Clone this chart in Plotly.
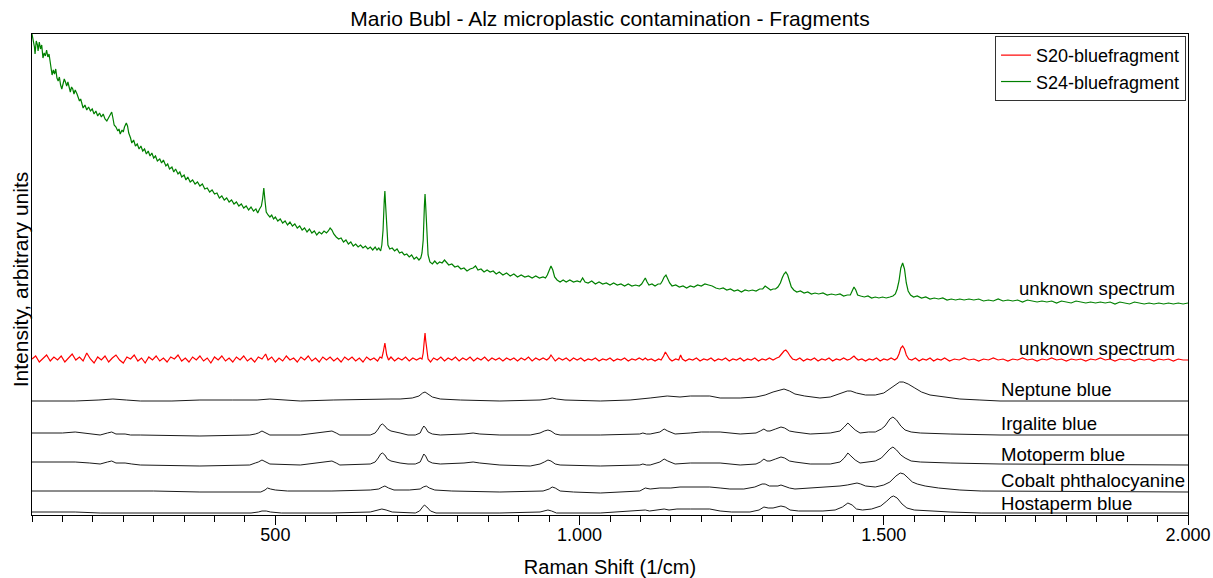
import plotly.graph_objects as go

# ---------------- data (x = Raman shift in 1/cm, y = intensity, arbitrary units) ----------------
s24_spectrum = [
    (100,481),(102,476),(104,468),(105,461),(107,474),(109,470),(110,464),(112,473),(114,466),(116,470),
    (118,457),(120,462),(122,459),(124,465),(126,458),(128,461),(130,454),(132,447),(133,440),(135,445),
    (137,441),(139,446),(141,437),(143,434),(145,438),(147,430),(149,426),(151,431),(153,436),(155,433),
    (157,429),(159,433),(161,426),(163,423),(165,428),(167,426),(169,421),(171,425),(174,421),(176,418),
    (178,414),(180,416),(182,410),(184,407),(187,410),(190,405),(193,408),(196,404),(199,406),(202,401),
    (205,404),(208,399),(211,402),(214,398),(217,401),(220,396),(223,394),(226,397),(229,401),(231,403),
    (233,397),(235,390),(238,388),(241,384),(243,386),(245,381),(248,385),(250,383),(252,388),(255,392),
    (257,389),(259,382),(262,377),(264,372),(267,375),(270,369),(273,371),(276,366),(279,369),(282,364),
    (285,366),(288,361),(291,364),(294,359),(297,362),(300,357),(303,359),(306,354),(310,356),(313,352),
    (316,355),(320,349),(323,351),(326,346),(330,348),(333,343),(336,346),(340,341),(343,343),(346,338),
    (350,340),(353,335),(356,338),(360,333),(364,335),(368,331),(372,333),(376,329),(380,331),(384,326),
    (388,327),(392,323),(396,325),(400,321),(404,322),(408,317),(412,319),(416,315),(420,317),(424,313),
    (428,315),(432,311),(436,313),(440,309),(444,311),(448,307),(452,309),(456,305),(460,308),(464,304),
    (468,306),(471,302),(474,306),(477,309),(479,316),(481,327),(483,314),(485,303),(488,300),(491,298),
    (494,300),(497,296),(500,298),(504,294),(508,296),(512,292),(516,294),(520,290),(524,293),(528,289),
    (532,291),(536,287),(540,289),(544,285),(548,287),(552,283),(556,286),(560,282),(564,284),(568,280),
    (572,283),(576,281),(580,284),(584,282),(587,284),(590,287),(593,285),(596,281),(600,278),(604,276),
    (608,277),(612,273),(616,275),(620,271),(624,273),(628,269),(632,271),(636,268),(640,270),(644,267),
    (648,269),(652,266),(656,268),(660,265),(664,268),(667,265),(670,267),(673,264),(675,270),(677,285),
    (679,315),(680,324),(681,312),(683,285),(685,270),(688,266),(692,267),(696,264),(700,266),(704,262),
    (708,263),(712,260),(716,261),(720,258),(724,260),(728,256),(732,258),(736,255),(739,257),(741,262),
    (743,275),(745,310),(746,321),(747,310),(749,278),(751,260),(754,253),(758,251),(762,254),(766,251),
    (770,253),(774,252),(778,255),(781,253),(785,250),(790,251),(795,248),(800,249),(805,246),(810,247),
    (815,244),(820,246),(825,247),(829,249),(833,245),(838,246),(843,243),(848,245),(853,243),(858,244),
    (863,241),(868,243),(874,240),(880,242),(886,239),(892,241),(898,238),(904,240),(910,238),(916,239),
    (922,237),(928,239),(934,237),(940,238),(944,237),(947,240),(950,245),(953,249),(956,245),(959,238),
    (963,235),(968,233),(973,235),(978,233),(984,235),(990,233),(996,234),(1001,233),(1005,237),(1009,233),
    (1014,232),(1020,234),(1026,231),(1032,233),(1038,231),(1044,232),(1050,230),(1056,232),(1062,230),(1068,231),
    (1074,229),(1080,231),(1086,229),(1092,230),(1098,229),(1102,231),(1105,234),(1108,237),(1111,233),(1114,230),
    (1119,231),(1124,229),(1129,231),(1133,231),(1136,234),(1139,238),(1142,240),(1145,236),(1148,232),(1152,229),
    (1158,230),(1164,228),(1170,229),(1176,227),(1182,229),(1188,228),(1194,230),(1200,229),(1206,231),(1212,230),
    (1218,229),(1224,227),(1230,226),(1236,227),(1242,225),(1248,226),(1254,224),(1260,225),(1266,223),(1272,225),
    (1278,224),(1284,225),(1290,224),(1296,226),(1301,226),(1305,229),(1309,227),(1314,225),(1318,226),(1322,226),
    (1326,228),(1330,232),(1333,237),(1336,241),(1339,243),(1342,240),(1345,234),(1348,228),(1352,225),(1357,223),
    (1363,224),(1369,222),(1375,223),(1381,221),(1387,222),(1393,221),(1400,222),(1407,220),(1414,221),(1421,220),
    (1428,221),(1434,219),(1440,220),(1445,220),(1448,224),(1451,228),(1454,225),(1457,220),(1462,219),(1468,218),
    (1474,219),(1480,217),(1486,218),(1492,217),(1498,218),(1504,217),(1510,218),(1515,219),(1519,221),(1522,226),
    (1525,234),(1528,247),(1531,252),(1534,246),(1537,232),(1540,224),(1544,220),(1549,218),(1555,219),(1562,217),
    (1569,218),(1576,216),(1583,217),(1590,216),(1597,217),(1604,215),(1611,216),(1618,215),(1625,216),(1632,215),
    (1640,216),(1648,215),(1656,216),(1664,214),(1672,215),(1680,214),(1688,216),(1696,214),(1704,215),(1712,214),
    (1720,215),(1728,213),(1736,215),(1744,214),(1752,213),(1760,214),(1768,213),(1776,214),(1784,212),(1792,214),
    (1800,213),(1808,212),(1816,214),(1824,213),(1832,212),(1840,213),(1848,212),(1856,213),(1864,212),(1872,213),
    (1880,211),(1888,213),(1896,212),(1904,211),(1912,213),(1920,212),(1928,211),(1936,212),(1944,211),(1952,212),
    (1960,211),(1968,212),(1976,211),(1984,212),(1992,211),(2000,212),
]

s20_spectrum = [
    (100,156),(106,159),(112,153),(118,157),(124,160),(130,154),(136,158),(142,155),(148,159),(154,153),
    (160,157),(166,161),(172,155),(178,158),(184,154),(190,162),(196,156),(202,152),(208,158),(214,155),
    (220,159),(226,153),(232,157),(238,160),(244,155),(250,152),(256,158),(262,156),(268,160),(274,154),
    (280,157),(286,152),(292,158),(298,155),(304,159),(310,154),(316,157),(322,153),(328,158),(334,156),
    (340,160),(346,154),(352,157),(358,153),(364,158),(370,155),(376,159),(382,154),(388,157),(394,152),
    (400,158),(406,155),(412,159),(418,154),(424,157),(430,153),(436,158),(442,155),(448,159),(454,154),
    (460,157),(466,153),(472,158),(478,156),(484,161),(488,155),(494,158),(500,153),(506,157),(512,154),
    (518,159),(524,155),(530,157),(536,153),(542,158),(548,155),(554,159),(560,154),(566,157),(572,153),
    (578,158),(584,155),(590,158),(596,154),(602,157),(608,153),(614,158),(620,155),(626,158),(632,154),
    (638,157),(644,153),(650,158),(656,155),(662,157),(668,154),(672,158),(675,157),(677,162),(679,169),
    (680,172),(681,168),(683,160),(686,155),(690,158),(696,154),(702,157),(708,155),(714,158),(720,154),
    (726,157),(732,155),(738,157),(741,156),(743,162),(745,176),(746,182),(747,175),(749,162),(751,156),
    (755,153),(760,157),(766,155),(772,158),(778,154),(784,157),(790,155),(796,158),(802,154),(808,157),
    (814,155),(820,158),(826,154),(832,157),(838,155),(844,158),(850,154),(856,157),(862,155),(868,157),
    (874,154),(880,157),(886,155),(892,157),(898,154),(904,157),(910,155),(916,158),(922,154),(928,157),
    (934,155),(940,157),(946,155),(950,157),(953,160),(956,157),(960,154),(966,157),(972,155),(978,157),
    (984,154),(990,157),(996,155),(1002,157),(1008,154),(1014,156),(1020,155),(1026,157),(1032,154),(1038,156),
    (1044,155),(1050,157),(1056,154),(1062,156),(1068,155),(1074,157),(1080,154),(1086,156),(1092,155),(1098,157),
    (1104,155),(1108,157),(1112,155),(1118,156),(1124,154),(1130,156),(1134,155),(1138,159),(1141,163),(1144,160),
    (1148,156),(1152,154),(1158,156),(1163,155),(1166,160),(1169,156),(1174,154),(1180,156),(1186,155),(1192,157),
    (1198,154),(1204,156),(1210,155),(1216,157),(1222,154),(1228,156),(1234,155),(1240,157),(1246,154),(1252,156),
    (1258,155),(1264,157),(1270,154),(1276,156),(1282,155),(1288,157),(1294,154),(1300,156),(1306,155),(1312,157),
    (1318,155),(1324,157),(1328,158),(1332,161),(1336,164),(1339,165),(1342,163),(1346,159),(1350,156),(1356,155),
    (1362,157),(1368,154),(1374,156),(1380,155),(1386,157),(1392,154),(1398,156),(1404,155),(1410,157),(1416,154),
    (1422,156),(1428,155),(1434,157),(1440,155),(1445,156),(1449,158),(1451,159),(1454,157),(1458,155),(1464,156),
    (1470,154),(1476,156),(1482,155),(1488,157),(1494,154),(1500,156),(1506,155),(1512,157),(1518,155),(1522,157),
    (1525,161),(1528,167),(1531,169),(1534,166),(1537,160),(1541,156),(1546,155),(1552,157),(1558,154),(1564,156),
    (1570,155),(1576,157),(1582,154),(1588,156),(1594,155),(1600,157),(1608,154),(1616,156),(1624,155),(1632,157),
    (1640,155),(1648,156),(1656,154),(1664,156),(1672,155),(1680,157),(1688,155),(1696,156),(1704,154),(1712,156),
    (1720,155),(1728,157),(1736,155),(1744,156),(1752,154),(1760,156),(1768,155),(1776,157),(1784,155),(1792,156),
    (1800,154),(1808,156),(1816,155),(1824,156),(1832,154),(1840,156),(1848,155),(1856,157),(1864,155),(1872,156),
    (1880,154),(1888,156),(1896,155),(1904,156),(1912,154),(1920,156),(1928,155),(1936,156),(1944,154),(1952,156),
    (1960,155),(1968,156),(1976,154),(1984,156),(1992,155),(2000,155),
]

neptune_blue = [
    (100,114),(140,114),(171,114),(210,115),(233,116),(255,115),(278,114),(330,114),(376,115),(430,115),
    (470,115),(491,116),(510,115),(541,114),(595,115),(651,116),(690,116),(705,116),(725,117),(736,119),
    (742,122),(746,123),(751,121),(758,118),(771,116),(804,115),(869,114),(935,115),(948,116),(955,117),
    (962,116),(976,115),(1034,114),(1083,115),(1116,117),(1144,119),(1165,118),(1182,119),(1198,119),(1214,119),
    (1231,117),(1264,117),(1290,118),(1305,120),(1318,123),(1328,125),(1336,126),(1345,124),(1354,121),(1370,119),
    (1395,117),(1412,118),(1428,121),(1440,124),(1446,124),(1455,122),(1470,120),(1486,120),(1500,122),(1510,126),
    (1518,130),(1526,133),(1532,133),(1540,131),(1551,127),(1562,123),(1576,120),(1600,118),(1625,116),(1658,115),
    (1691,114),(2000,114),
]

irgalite_blue = [
    (100,82),(150,82),(171,83),(195,81),(212,80),(224,82),(231,83),(238,81),(244,81),(253,81),
    (262,80),(278,80),(376,79),(458,80),(467,81),(472,82),(478,84),(484,82),(491,80),(541,80),
    (573,82),(585,83),(593,84),(600,82),(606,80),(656,80),(664,82),(669,86),(673,90),(676,91),
    (680,89),(684,86),(690,84),(705,82),(718,80),(730,80),(738,82),(741,86),(744,89),(747,87),
    (751,83),(758,81),(771,80),(810,81),(825,82),(836,81),(869,80),(919,80),(935,82),(942,84),
    (948,85),(953,84),(960,81),(968,80),(1034,80),(1099,81),(1104,82),(1110,81),(1116,81),(1132,83),
    (1139,86),(1145,84),(1157,81),(1182,82),(1200,83),(1214,83),(1231,83),(1264,81),(1290,82),(1297,84),
    (1303,86),(1308,84),(1313,84),(1322,86),(1331,88),(1337,87),(1345,84),(1354,83),(1379,81),(1412,82),
    (1428,84),(1435,88),(1441,92),(1446,89),(1453,85),(1461,82),(1475,83),(1486,83),(1496,86),(1502,89),
    (1510,96),(1515,98),(1521,95),(1528,89),(1535,85),(1545,83),(1560,82),(1609,81),(1691,80),(2000,80),
]

motoperm_blue = [
    (100,53),(150,53),(171,53),(195,52),(212,51),(224,53),(231,54),(238,52),(244,52),(253,52),
    (264,51),(278,50),(376,49),(458,50),(467,52),(472,53),(478,55),(484,53),(491,51),(541,50),
    (573,52),(585,53),(593,54),(600,52),(606,50),(656,51),(664,53),(669,57),(673,61),(676,62),
    (680,60),(684,56),(690,54),(705,52),(718,51),(730,51),(738,53),(741,57),(744,61),(747,59),
    (751,54),(758,52),(771,51),(810,52),(825,53),(836,52),(869,50),(919,49),(935,51),(942,53),
    (948,55),(953,54),(960,51),(968,50),(1034,49),(1099,50),(1104,51),(1110,50),(1116,50),(1132,53),
    (1139,56),(1145,54),(1157,51),(1182,52),(1200,52),(1214,52),(1231,52),(1264,50),(1290,51),(1297,53),
    (1303,56),(1308,54),(1313,54),(1322,56),(1331,58),(1337,57),(1345,54),(1354,53),(1379,51),(1412,51),
    (1428,53),(1435,57),(1441,62),(1446,59),(1453,55),(1461,52),(1475,53),(1486,54),(1496,57),(1502,61),
    (1510,66),(1515,68),(1521,65),(1528,60),(1535,57),(1545,54),(1560,53),(1609,52),(1691,51),(2000,50),
]

cobalt_phthalocyanine = [
    (100,24),(200,24),(300,24),(376,23),(460,23),(476,23),(483,25),(487,27),(492,26),(500,25),
    (520,24),(593,24),(656,25),(670,26),(676,28),(680,29),(686,27),(695,25),(720,25),(738,26),
    (743,28),(748,29),(753,27),(762,25),(790,24),(869,23),(940,24),(950,26),(955,28),(960,27),
    (968,24),(990,23),(1034,22),(1080,23),(1099,24),(1108,27),(1116,26),(1132,27),(1150,27),(1165,28),
    (1182,28),(1198,28),(1214,28),(1231,27),(1247,26),(1270,26),(1288,28),(1300,31),(1305,31),(1312,29),
    (1318,29),(1326,29),(1331,30),(1336,29),(1345,27),(1354,26),(1379,27),(1412,28),(1428,29),(1440,30),
    (1450,31),(1456,32),(1462,31),(1470,29),(1486,28),(1500,30),(1510,33),(1520,39),(1527,42),(1533,41),
    (1540,37),(1547,33),(1555,31),(1568,29),(1590,27),(1625,25),(1660,24),(2000,23),
]

hostaperm_blue = [
    (100,3),(140,3),(171,3),(212,2),(278,2),(376,2),(460,2),(472,3),(478,4),(485,4),
    (492,3),(510,2),(593,2),(656,3),(668,5),(675,6),(682,5),(692,3),(730,2),(737,4),
    (742,8),(745,10),(749,8),(755,4),(764,2),(869,2),(935,3),(943,4),(948,5),(954,4),
    (962,2),(1034,2),(1099,4),(1108,5),(1115,4),(1132,5),(1139,6),(1147,5),(1160,6),(1182,6),
    (1214,6),(1231,4),(1250,3),(1280,3),(1295,5),(1303,8),(1310,7),(1318,7),(1326,8),(1331,9),
    (1338,8),(1346,5),(1360,4),(1400,4),(1420,5),(1432,8),(1441,12),(1448,10),(1455,6),(1465,5),
    (1480,6),(1495,9),(1505,14),(1512,18),(1516,19),(1522,17),(1530,11),(1538,7),(1550,5),(1575,4),
    (1609,3),(1660,2),(2000,2),
]

tick_values = [500, 1000, 1500, 2000]
tick_labels = ["500", "1.000", "1.500", "2.000"]

spectrum_labels = ["unknown spectrum", "unknown spectrum", "Neptune blue", "Irgalite blue",
                   "Motoperm blue", "Cobalt phthalocyanine", "Hostaperm blue"]

# ---------------- figure ----------------
FONT = "Liberation Sans, Arial, sans-serif"
fig = go.Figure()

def add(points, name, color, width, show):
    xs, ys = zip(*points)
    fig.add_trace(go.Scatter(x=list(xs), y=list(ys), mode="lines", name=name,
                             line=dict(color=color, width=width), showlegend=show,
                             hoverinfo="skip"))

for pts in [neptune_blue, irgalite_blue, motoperm_blue, cobalt_phthalocyanine, hostaperm_blue]:
    add(pts, "", "#1a1a1a", 1, False)
add(s20_spectrum, "S20-bluefragment", "#ff0000", 1.2, True)
add(s24_spectrum, "S24-bluefragment", "#008000", 1.2, True)

label_pos = [(1719, 227), (1719, 167), (1689, 126), (1689, 92),
             (1689, 61), (1689, 35), (1689, 12)]
for text, (lx, ly) in zip(spectrum_labels, label_pos):
    fig.add_annotation(x=lx, y=ly, text=text, showarrow=False, xanchor="left",
                       yanchor="middle", font=dict(family=FONT, size=18.6, color="black"))

# y-axis title as rotated text left of the frame
fig.add_annotation(x=-0.0104, y=0.49, xref="paper", yref="paper", text="Intensity, arbitrary units",
                   textangle=-90, showarrow=False, xanchor="center", yanchor="middle",
                   font=dict(family=FONT, size=21, color="black"))

fig.update_layout(
    width=1213, height=578,
    margin=dict(l=32, r=25, t=34, b=63, pad=0),
    paper_bgcolor="white", plot_bgcolor="white",
    font=dict(family=FONT, size=18, color="black"),
    title=dict(text="Mario Bubl - Alz microplastic contamination - Fragments",
               x=0.5, xref="paper", xanchor="center", y=1 - 19 / 578, yref="container",
               yanchor="middle", font=dict(family=FONT, size=21, color="black")),
    legend=dict(x=0.9983, y=0.996, xanchor="right", yanchor="top", bgcolor="white",
                bordercolor="#333333", borderwidth=1, font=dict(family=FONT, size=18),
                itemwidth=30, tracegroupgap=0),
    showlegend=True,
)
fig.update_xaxes(range=[100, 2000], showgrid=False, zeroline=False, automargin=False,
                 showline=True, mirror=True, linecolor="black", linewidth=1,
                 ticks="outside", ticklen=9, tickcolor="black",
                 tickmode="array", tickvals=tick_values, ticktext=tick_labels,
                 ticklabelstandoff=-6,
                 tickfont=dict(family=FONT, size=18, color="black"),
                 minor=dict(ticks="outside", ticklen=6, tickcolor="black",
                            tickmode="linear", tick0=0, dtick=50, showgrid=False),
                 title=dict(text="Raman Shift (1/cm)", standoff=18,
                            font=dict(family=FONT, size=20, color="black")))
fig.update_yaxes(range=[0, 481], showgrid=False, zeroline=False, automargin=False,
                 showline=True, mirror=True, linecolor="black", linewidth=1,
                 showticklabels=False, ticks="")

fig.write_html("out.html")
